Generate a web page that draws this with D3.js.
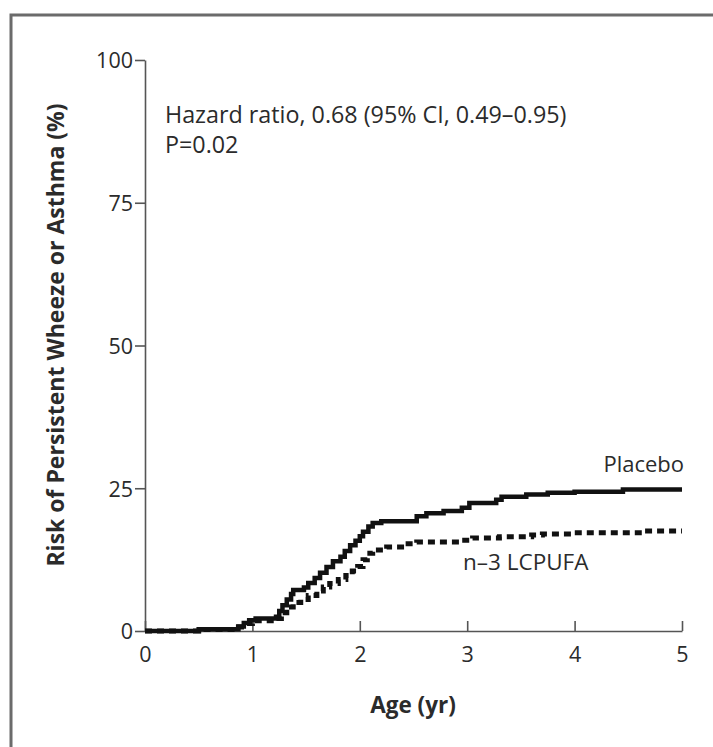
<!DOCTYPE html>
<html>
<head>
<meta charset="utf-8">
<script src="https://cdn.jsdelivr.net/npm/d3@7"></script>
<style>
  body { margin: 0; background: #fff; }
  svg text { font-family: "Open Sans", "Noto Sans", sans-serif; fill: #2b2b2b; }
</style>
</head>
<body>
<svg id="chart" width="713" height="747"></svg>
<script>
// Kaplan-Meier steps: [age in years, risk %]
const placebo = [
  [0, 0], [0.5, 0.3], [0.87, 0.8], [0.92, 1.4], [0.97, 1.9], [1.03, 2.2],
  [1.22, 2.5], [1.25, 3.5], [1.28, 4.5], [1.32, 5.5], [1.36, 6.5], [1.38, 7.2],
  [1.48, 7.6], [1.52, 8.4], [1.58, 9.3], [1.63, 10.2], [1.69, 11.2], [1.75, 12.2],
  [1.82, 13.0], [1.86, 14.0], [1.91, 15.0], [1.96, 15.8], [2.0, 16.6], [2.03, 17.4],
  [2.08, 18.3], [2.12, 18.9], [2.2, 19.2], [2.53, 20.1], [2.62, 20.6], [2.78, 21.0],
  [2.95, 21.6], [3.02, 22.4], [3.27, 23.0], [3.32, 23.5], [3.55, 23.9], [3.75, 24.2],
  [4.0, 24.4], [4.45, 24.8], [5.0, 24.8]
];
const lcpufa = [
  [0, 0], [0.5, 0.25], [0.87, 0.7], [0.95, 1.3], [1.0, 1.8], [1.22, 2.2],
  [1.27, 3.2], [1.32, 4.2], [1.38, 5.0], [1.45, 5.5], [1.52, 6.2], [1.6, 7.0],
  [1.66, 7.7], [1.72, 8.3], [1.8, 9.0], [1.87, 9.7], [1.93, 10.5], [1.98, 11.3],
  [2.03, 12.5], [2.07, 13.6], [2.12, 14.2], [2.25, 14.7], [2.45, 15.3], [2.53, 15.6],
  [2.95, 15.9], [3.05, 16.3], [3.3, 16.5], [3.6, 16.8], [3.7, 17.0], [4.0, 17.2],
  [4.65, 17.5], [5.0, 17.5]
];
const xTicks = [0, 1, 2, 3, 4, 5];
const yTicks = [0, 25, 50, 75, 100];
const annotation = ["Hazard ratio, 0.68 (95% CI, 0.49\u20130.95)", "P=0.02"];

const svg = d3.select("#chart");

// panel frame (top and left edges visible)
svg.append("path")
  .attr("d", "M11,747 V15 H713")
  .attr("fill", "none")
  .attr("stroke", "#6b6b6b")
  .attr("stroke-width", 3);

const x = d3.scaleLinear().domain([0, 5]).range([145, 682]);
const y = d3.scaleLinear().domain([0, 100]).range([631, 60]);

const xAxis = svg.append("g")
  .attr("transform", `translate(0,${y(0)})`)
  .call(d3.axisBottom(x).tickValues(xTicks).tickFormat(d3.format("d"))
    .tickSize(10).tickPadding(6).tickSizeOuter(0));

const yAxis = svg.append("g")
  .attr("transform", `translate(${x(0)},0)`)
  .call(d3.axisLeft(y).tickValues(yTicks).tickSize(10).tickPadding(2).tickSizeOuter(0));

[xAxis, yAxis].forEach(a => {
  a.select(".domain").attr("stroke", "#555").attr("stroke-width", 1.6);
  a.selectAll(".tick line").attr("stroke", "#555").attr("stroke-width", 1.6);
  a.selectAll(".tick text")
    .attr("font-size", 21.5)
    .attr("font-family", "'Open Sans', sans-serif")
    .attr("fill", "#2b2b2b");
});
// x axis ticks point up into the plot
xAxis.selectAll(".tick line").attr("y2", -10);
yAxis.selectAll(".tick text").attr("dy", "0.36em");

const line = d3.line()
  .x(d => x(d[0]))
  .y(d => y(d[1]))
  .curve(d3.curveStepAfter);

svg.append("path")
  .datum(lcpufa)
  .attr("d", line)
  .attr("fill", "none")
  .attr("stroke", "#111")
  .attr("stroke-width", 5)
  .attr("stroke-dasharray", "7,5");

svg.append("path")
  .datum(placebo)
  .attr("d", line)
  .attr("fill", "none")
  .attr("stroke", "#111")
  .attr("stroke-width", 4.5);

svg.append("text")
  .attr("x", 684).attr("y", 472)
  .attr("text-anchor", "end")
  .attr("font-size", 22)
  .text("Placebo");

svg.append("text")
  .attr("x", 463).attr("y", 570)
  .attr("font-size", 22.5)
  .text("n\u20133 LCPUFA");

svg.append("g").selectAll("text")
  .data(annotation)
  .enter()
  .append("text")
  .attr("x", 165)
  .attr("y", (d, i) => 123 + i * 30)
  .attr("font-size", 23.3)
  .text(d => d);

svg.append("text")
  .attr("x", 413).attr("y", 713)
  .attr("text-anchor", "middle")
  .attr("font-size", 22.5)
  .attr("font-weight", "bold")
  .text("Age (yr)");

svg.append("text")
  .attr("transform", "translate(64,335) rotate(-90)")
  .attr("text-anchor", "middle")
  .attr("font-size", 23)
  .attr("font-weight", "bold")
  .text("Risk of Persistent Wheeze or Asthma (%)");
</script>
</body>
</html>
